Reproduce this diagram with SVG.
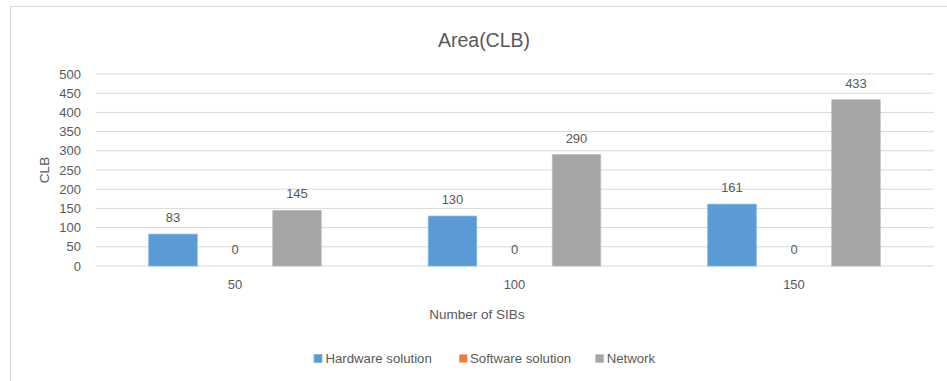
<svg xmlns="http://www.w3.org/2000/svg" width="947" height="381" viewBox="0 0 947 381">
  <style>
    text { font-family: "Liberation Sans", Arial, sans-serif; fill: #595959; }
    .grid line { stroke: #d9d9d9; stroke-width: 1; }
    .tick { font-size: 13px; text-anchor: end; }
    .cat { font-size: 13px; text-anchor: middle; }
    .val { font-size: 13px; text-anchor: middle; }
    .hw { fill: #5b9bd5; stroke: #7fb1e0; stroke-width: 0.75; }
    .sw { fill: #ed7d31; }
    .net { fill: #a5a5a5; stroke: #bdbdbd; stroke-width: 0.75; }
    .leg { font-size: 13.2px; }
  </style>

  <!-- chart frame -->
  <rect x="10.5" y="6.5" width="950" height="400" fill="#ffffff" stroke="#d9d9d9" stroke-width="1"/>

  <text x="484" y="47" font-size="19.5" text-anchor="middle">Area(CLB)</text>

  <!-- horizontal gridlines, 0..500 step 50 -->
  <g class="grid">
    <line x1="96" y1="74" x2="934" y2="74"/>
    <line x1="96" y1="93.2" x2="934" y2="93.2"/>
    <line x1="96" y1="112.4" x2="934" y2="112.4"/>
    <line x1="96" y1="131.6" x2="934" y2="131.6"/>
    <line x1="96" y1="150.8" x2="934" y2="150.8"/>
    <line x1="96" y1="170" x2="934" y2="170"/>
    <line x1="96" y1="189.2" x2="934" y2="189.2"/>
    <line x1="96" y1="208.4" x2="934" y2="208.4"/>
    <line x1="96" y1="227.6" x2="934" y2="227.6"/>
    <line x1="96" y1="246.8" x2="934" y2="246.8"/>
    <line x1="96" y1="266" x2="934" y2="266"/>
  </g>

  <!-- value axis -->
  <g id="value-axis">
    <text class="tick" x="81" y="78.5">500</text>
    <text class="tick" x="81" y="97.7">450</text>
    <text class="tick" x="81" y="116.9">400</text>
    <text class="tick" x="81" y="136.1">350</text>
    <text class="tick" x="81" y="155.3">300</text>
    <text class="tick" x="81" y="174.5">250</text>
    <text class="tick" x="81" y="193.7">200</text>
    <text class="tick" x="81" y="212.9">150</text>
    <text class="tick" x="81" y="232.1">100</text>
    <text class="tick" x="81" y="251.3">50</text>
    <text class="tick" x="81" y="270.5">0</text>
    <text x="0" y="0" font-size="13.5" text-anchor="middle" transform="translate(48.5 170) rotate(-90)">CLB</text>
  </g>

  <!-- category axis -->
  <g id="category-axis">
    <text class="cat" x="235" y="289">50</text>
    <text class="cat" x="514.5" y="289">100</text>
    <text class="cat" x="794" y="289">150</text>
    <text x="477" y="319" font-size="13.5" text-anchor="middle">Number of SIBs</text>
  </g>

  <!-- series: 50 SIBs -->
  <g id="group-50">
    <rect class="hw" x="148.75" y="234.13" width="48.5" height="31.87"/>
    <text class="val" x="173" y="222.1">83</text>
    <text class="val" x="235" y="254">0</text>
    <rect class="net" x="272.75" y="210.32" width="48.5" height="55.68"/>
    <text class="val" x="297" y="198.3">145</text>
  </g>

  <!-- series: 100 SIBs -->
  <g id="group-100">
    <rect class="hw" x="428.25" y="216.08" width="48.5" height="49.92"/>
    <text class="val" x="452.5" y="204.1">130</text>
    <text class="val" x="514.5" y="254">0</text>
    <rect class="net" x="552.25" y="154.64" width="48.5" height="111.36"/>
    <text class="val" x="576.5" y="142.6">290</text>
  </g>

  <!-- series: 150 SIBs -->
  <g id="group-150">
    <rect class="hw" x="707.75" y="204.18" width="48.5" height="61.82"/>
    <text class="val" x="732" y="192.2">161</text>
    <text class="val" x="794" y="254">0</text>
    <rect class="net" x="831.75" y="99.73" width="48.5" height="166.27"/>
    <text class="val" x="856" y="87.7">433</text>
  </g>

  <!-- legend -->
  <g id="legend">
    <rect class="hw" x="314" y="354.5" width="8" height="8" stroke="none"/>
    <text class="leg" x="325.5" y="363.3">Hardware solution</text>
    <rect class="sw" x="459.3" y="354.5" width="8" height="8"/>
    <text class="leg" x="470" y="363.3">Software solution</text>
    <rect class="net" x="595.7" y="354.5" width="8" height="8" stroke="none"/>
    <text class="leg" x="606.7" y="363.3">Network</text>
  </g>
</svg>
